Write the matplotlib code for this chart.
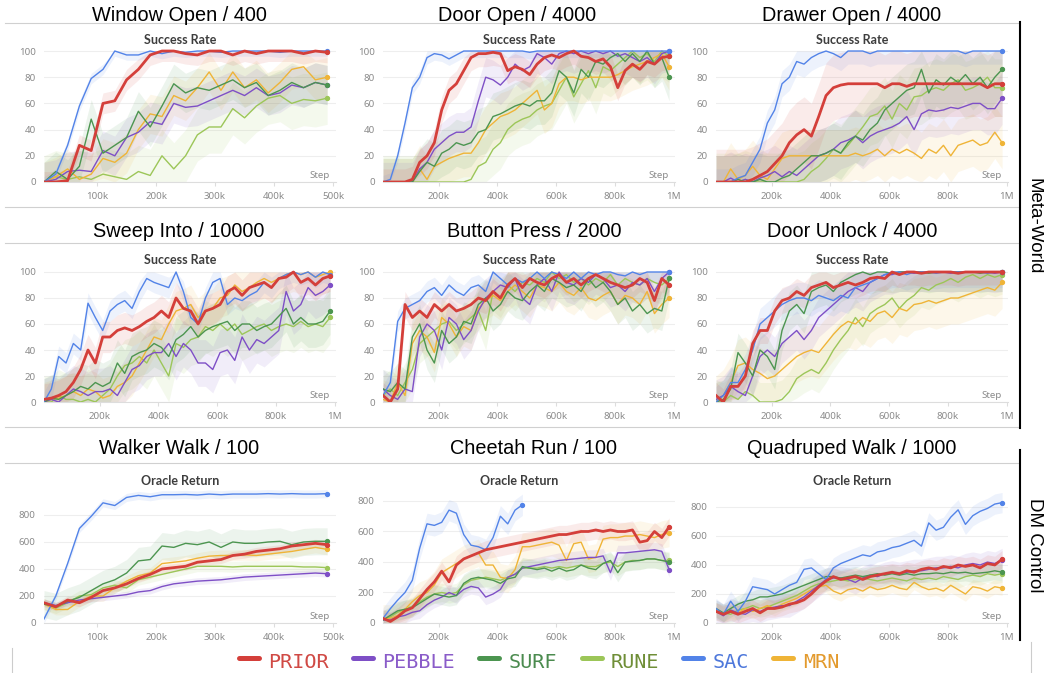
import numpy as np
import matplotlib.pyplot as plt
from matplotlib.lines import Line2D

# ---------------- data ----------------
methods = ["PRIOR", "PEBBLE", "SURF", "RUNE", "SAC", "MRN"]
line_colors = {"PRIOR": "#d43f3a", "PEBBLE": "#7e4fc6", "SURF": "#4c9550",
               "RUNE": "#9cc658", "SAC": "#5283e8", "MRN": "#efb437"}
legend_text_colors = {"PRIOR": "#d04a45", "PEBBLE": "#8a5cc9", "SURF": "#4b8b4f",
                      "RUNE": "#6f8e37", "SAC": "#4e78db", "MRN": "#e39a2d"}

steps_500k = np.arange(10, 500, 20) * 1000     # 25 logged steps
steps_1m = np.arange(10, 1000, 25) * 1000      # 40 logged steps

window_open = {
    "PRIOR": [0, 0, 1, 28, 24, 60, 62, 78, 86, 97, 100, 100, 98, 97, 100, 100, 97, 100, 98, 100, 100, 100, 98, 100, 99],
    "PEBBLE": [0, 2, 8, 9, 8, 24, 20, 34, 38, 46, 44, 60, 57, 58, 62, 66, 70, 66, 72, 66, 68, 74, 72, 76, 74],
    "SURF": [0, 8, 2, 12, 48, 22, 28, 34, 54, 42, 58, 75, 68, 72, 70, 74, 78, 72, 76, 66, 70, 76, 72, 76, 74],
    "RUNE": [0, 4, 2, 4, 2, 6, 4, 2, 8, 5, 20, 10, 20, 36, 42, 42, 56, 49, 58, 64, 66, 60, 63, 62, 64],
    "SAC": [0, 6, 28, 58, 79, 86, 100, 97, 97, 100, 98, 100, 99, 100, 100, 99, 100, 100, 100, 100, 99, 100, 100, 100, 100],
    "MRN": [0, 4, 10, 2, 6, 18, 15, 22, 40, 52, 50, 66, 62, 72, 84, 70, 84, 72, 78, 68, 76, 86, 88, 78, 80],
}
window_open_spread = [8, 15, 15, 20, 4, 15]

door_open = {
    "PRIOR": [0, 0, 0, 0, 2, 15, 20, 30, 55, 70, 75, 85, 95, 98, 98, 99, 98, 85, 88, 86,
              82, 90, 95, 97, 95, 98, 100, 96, 95, 92, 94, 88, 72, 85, 90, 86, 92, 90, 95, 96],
    "PEBBLE": [0, 0, 0, 0, 0, 10, 15, 25, 30, 35, 38, 38, 42, 62, 80, 78, 74, 80, 90, 85,
               88, 98, 95, 90, 98, 100, 98, 100, 98, 100, 98, 100, 96, 98, 95, 92, 95, 90, 98, 100],
    "SURF": [0, 0, 0, 0, 0, 8, 15, 12, 22, 25, 30, 28, 30, 38, 40, 50, 52, 55, 58, 60,
             58, 62, 62, 68, 85, 80, 68, 86, 80, 92, 90, 95, 98, 92, 98, 92, 100, 90, 95, 80],
    "RUNE": [0, 0, 0, 0, 0, 0, 0, 0, 0, 0, 0, 0, 2, 12, 15, 25, 30, 40, 45, 48,
             50, 55, 58, 60, 70, 80, 65, 75, 85, 72, 88, 85, 90, 95, 100, 95, 98, 92, 100, 96],
    "SAC": [0, 2, 20, 45, 72, 80, 95, 98, 97, 94, 97, 100, 100, 100, 100, 100, 100, 100, 100, 100,
            99, 100, 100, 100, 100, 100, 100, 100, 100, 100, 100, 100, 100, 100, 100, 100, 100, 100, 100, 100],
    "MRN": [0, 0, 0, 0, 0, 10, 2, 12, 15, 18, 20, 22, 22, 30, 40, 45, 50, 52, 55, 60,
            65, 70, 55, 60, 75, 80, 80, 78, 80, 80, 80, 80, 82, 85, 88, 90, 92, 95, 98, 88],
}
door_open_spread = [10, 15, 18, 20, 5, 18]

drawer_open = {
    "PRIOR": [0, 0, 0, 0, 0, 2, 5, 8, 14, 20, 30, 36, 40, 35, 50, 66, 72, 74, 75, 75,
              75, 75, 75, 72, 75, 75, 73, 75, 75, 75, 75, 75, 75, 75, 75, 75, 75, 72, 75, 75],
    "PEBBLE": [0, 0, 3, 0, 2, 0, 3, 5, 8, 4, 8, 5, 10, 15, 20, 22, 25, 30, 32, 35,
               30, 35, 38, 40, 42, 45, 50, 40, 52, 55, 54, 55, 57, 56, 58, 60, 60, 56, 56, 64],
    "SURF": [0, 0, 0, 2, 0, 0, 2, 0, 0, 3, 5, 10, 15, 20, 20, 22, 25, 22, 30, 35,
             32, 40, 45, 55, 60, 65, 70, 72, 86, 68, 78, 74, 80, 76, 82, 75, 80, 72, 80, 86],
    "RUNE": [0, 0, 0, 0, 2, 0, 0, 0, 0, 0, 0, 0, 2, 8, 12, 18, 25, 22, 28, 35,
             42, 50, 52, 58, 48, 60, 55, 65, 66, 70, 72, 70, 75, 78, 70, 72, 75, 80, 72, 72],
    "SAC": [0, 0, 0, 3, 5, 15, 25, 45, 55, 75, 80, 92, 90, 95, 98, 100, 98, 95, 100, 100,
            100, 98, 100, 100, 100, 100, 100, 100, 100, 100, 100, 100, 100, 100, 98, 100, 100, 100, 100, 100],
    "MRN": [0, 0, 10, 2, 5, 12, 5, 2, 10, 18, 20, 20, 20, 20, 20, 20, 20, 20, 20, 22,
            20, 22, 25, 20, 25, 22, 25, 22, 18, 25, 22, 28, 20, 28, 30, 32, 28, 30, 38, 30],
}
drawer_open_spread = [25, 20, 20, 22, 10, 20]

sweep_into = {
    "PRIOR": [2, 3, 5, 8, 15, 25, 40, 30, 50, 50, 55, 57, 55, 58, 62, 65, 70, 65, 80, 72,
              70, 60, 70, 72, 75, 85, 88, 82, 88, 90, 92, 88, 95, 96, 100, 92, 95, 90, 95, 97],
    "PEBBLE": [0, 2, 0, 5, 10, 8, 5, 8, 8, 10, 5, 15, 25, 28, 35, 38, 38, 45, 35, 45,
               40, 30, 30, 25, 38, 40, 32, 50, 40, 48, 45, 50, 55, 85, 70, 75, 88, 82, 85, 90],
    "SURF": [0, 3, 2, 5, 8, 12, 10, 15, 12, 15, 30, 22, 35, 38, 40, 45, 42, 35, 48, 52,
             58, 50, 55, 58, 60, 62, 55, 60, 60, 55, 58, 60, 66, 72, 60, 65, 60, 60, 62, 70],
    "RUNE": [0, 0, 5, 2, 2, 0, 2, 0, 5, 10, 20, 28, 30, 35, 30, 40, 30, 20, 45, 42,
             48, 50, 58, 55, 60, 55, 60, 52, 55, 58, 60, 55, 58, 60, 58, 62, 58, 60, 58, 65],
    "SAC": [0, 10, 35, 30, 45, 40, 76, 65, 55, 70, 75, 78, 72, 85, 95, 92, 90, 88, 100, 85,
            65, 60, 80, 92, 95, 75, 80, 78, 82, 85, 92, 88, 95, 98, 100, 98, 100, 96, 100, 98],
    "MRN": [0, 2, 3, 5, 8, 5, 10, 8, 3, 5, 12, 15, 20, 30, 40, 50, 48, 60, 70, 72,
            75, 65, 70, 72, 80, 82, 90, 85, 88, 92, 95, 92, 95, 98, 100, 98, 100, 96, 98, 100],
}
sweep_into_spread = [12, 18, 18, 20, 8, 15]

button_press = {
    "PRIOR": [5, 0, 10, 75, 65, 70, 65, 75, 70, 75, 70, 72, 75, 80, 78, 85, 80, 90, 95, 88,
              95, 92, 90, 95, 98, 92, 95, 90, 95, 98, 95, 92, 90, 88, 90, 95, 92, 78, 95, 90],
    "PEBBLE": [10, 5, 2, 10, 8, 50, 60, 55, 40, 65, 60, 48, 55, 70, 80, 85, 90, 88, 95, 80,
               75, 90, 95, 85, 100, 92, 90, 95, 92, 98, 95, 88, 90, 85, 92, 90, 95, 85, 95, 100],
    "SURF": [10, 8, 15, 10, 50, 60, 40, 30, 55, 45, 50, 62, 60, 75, 80, 70, 75, 85, 80, 78,
             85, 90, 85, 95, 92, 88, 90, 85, 95, 88, 92, 85, 75, 80, 70, 75, 68, 72, 70, 95],
    "RUNE": [5, 10, 5, 15, 25, 45, 50, 55, 60, 62, 55, 60, 65, 70, 55, 85, 80, 90, 85, 92,
             90, 95, 92, 100, 95, 98, 92, 95, 90, 95, 92, 98, 90, 95, 92, 90, 95, 92, 90, 95],
    "SAC": [5, 15, 62, 72, 75, 78, 85, 88, 82, 90, 85, 82, 88, 90, 85, 100, 95, 90, 95, 92,
            95, 100, 95, 100, 98, 95, 100, 95, 100, 98, 100, 100, 98, 97, 100, 98, 100, 100, 100, 100],
    "MRN": [2, 0, 15, 5, 45, 55, 50, 38, 65, 60, 50, 58, 55, 72, 78, 82, 78, 85, 90, 85,
            80, 90, 88, 85, 92, 85, 82, 88, 80, 78, 82, 85, 75, 82, 80, 75, 85, 68, 75, 80],
}
button_press_spread = [10, 15, 15, 15, 8, 15]

door_unlock = {
    "PRIOR": [5, 0, 12, 12, 20, 45, 55, 55, 70, 78, 80, 85, 82, 88, 90, 92, 88, 90, 92, 90,
              92, 95, 96, 95, 100, 98, 100, 100, 99, 100, 100, 100, 100, 99, 100, 100, 100, 100, 100, 100],
    "PEBBLE": [2, 5, 12, 8, 5, 20, 35, 40, 35, 45, 50, 55, 48, 55, 65, 70, 75, 80, 85, 88,
               85, 92, 95, 98, 98, 100, 100, 99, 100, 100, 100, 100, 99, 100, 100, 100, 100, 100, 99, 100],
    "SURF": [0, 2, 10, 38, 30, 20, 40, 35, 25, 55, 70, 75, 68, 85, 88, 90, 85, 92, 95, 98,
             100, 98, 100, 100, 99, 100, 100, 100, 100, 99, 100, 100, 100, 100, 100, 100, 99, 100, 100, 100],
    "RUNE": [2, 0, 5, 2, 8, 5, 0, 0, 0, 2, 8, 18, 22, 25, 22, 30, 40, 48, 55, 65,
             58, 68, 72, 75, 80, 72, 78, 82, 88, 86, 90, 92, 95, 92, 96, 98, 95, 98, 96, 98],
    "SAC": [0, 5, 15, 15, 25, 40, 60, 65, 70, 75, 78, 80, 80, 78, 82, 80, 78, 82, 80, 88,
            90, 92, 95, 98, 100, 100, 98, 100, 100, 100, 99, 100, 100, 100, 100, 100, 100, 99, 100, 100],
    "MRN": [0, 5, 15, 28, 30, 25, 22, 18, 20, 25, 30, 35, 38, 40, 38, 45, 52, 58, 62, 60,
            65, 62, 68, 70, 65, 72, 70, 75, 76, 78, 76, 78, 80, 80, 82, 84, 86, 88, 86, 92],
}
door_unlock_spread = [10, 15, 15, 15, 12, 20]

walker_walk = {
    "PRIOR": [150, 120, 170, 150, 190, 240, 260, 290, 330, 360, 400, 410, 420, 450, 460, 470, 500, 510, 530, 540, 550, 570, 580, 590, 580],
    "PEBBLE": [150, 130, 150, 170, 180, 190, 200, 210, 230, 240, 270, 290, 300, 310, 315, 320, 330, 340, 345, 350, 355, 360, 365, 370, 365],
    "SURF": [140, 120, 160, 190, 240, 290, 320, 370, 460, 470, 570, 560, 590, 580, 600, 560, 600, 590, 590, 600, 605, 580, 600, 605, 605],
    "RUNE": [140, 110, 150, 200, 210, 260, 280, 260, 320, 340, 360, 380, 400, 420, 420, 420, 415, 420, 420, 420, 420, 420, 415, 415, 410],
    "SAC": [30, 200, 440, 700, 790, 890, 870, 930, 945, 935, 950, 950, 952, 948, 955, 950, 955, 955, 955, 958, 955, 958, 955, 955, 958],
    "MRN": [140, 100, 100, 160, 200, 200, 260, 310, 350, 370, 440, 450, 460, 480, 495, 500, 500, 505, 500, 510, 520, 530, 545, 560, 545],
}
walker_walk_spread = [30, 25, 100, 40, 30, 40]

cheetah_run = {
    "PRIOR": [30, 10, 40, 80, 100, 160, 220, 270, 340, 270, 380, 420, 440, 460, 480, 490, 500, 510, 520, 530,
              540, 550, 560, 570, 580, 580, 590, 600, 600, 610, 600, 610, 600, 600, 610, 530, 540, 600, 560, 630],
    "PEBBLE": [20, 20, 40, 50, 70, 80, 120, 150, 170, 200, 180, 220, 240, 230, 170, 190, 220, 300, 320, 360,
               370, 380, 390, 400, 410, 415, 420, 425, 430, 430, 440, 330, 460, 460, 465, 470, 475, 480, 470, 350],
    "SURF": [20, 50, 80, 90, 100, 130, 160, 190, 180, 170, 180, 260, 290, 300, 290, 280, 260, 290, 300, 370,
             360, 350, 360, 340, 360, 340, 350, 380, 360, 350, 390, 410, 330, 400, 405, 410, 420, 420, 410, 400],
    "RUNE": [20, 40, 70, 90, 110, 140, 170, 190, 200, 190, 200, 250, 280, 290, 300, 290, 280, 300, 320, 360,
             360, 360, 370, 360, 370, 360, 370, 380, 370, 370, 390, 400, 370, 400, 410, 410, 420, 420, 410, 410],
    "SAC": [30, 94, 150, 200, 280, 490, 650, 640, 660, 740, 720, 580, 510, 500, 480, 560, 700, 650, 740, 775],
    "MRN": [30, 30, 50, 90, 140, 180, 200, 250, 330, 360, 390, 420, 440, 460, 380, 380, 300, 290, 350, 500,
            500, 510, 520, 530, 510, 410, 520, 530, 420, 430, 550, 560, 560, 570, 570, 580, 570, 560, 580, 590],
}
cheetah_run_spread = [60, 50, 60, 60, 70, 90]

quadruped_walk = {
    "PRIOR": [80, 60, 80, 60, 80, 100, 70, 100, 100, 110, 130, 140, 160, 200, 250, 290, 320, 300, 310, 320,
              300, 320, 330, 340, 350, 340, 360, 350, 370, 380, 370, 390, 380, 400, 390, 400, 380, 410, 400, 440],
    "PEBBLE": [80, 50, 90, 70, 60, 90, 80, 100, 110, 120, 120, 150, 180, 220, 260, 300, 310, 310, 300, 280,
               310, 330, 320, 340, 350, 340, 350, 360, 360, 370, 380, 380, 390, 380, 400, 410, 400, 420, 410, 435],
    "SURF": [100, 70, 100, 130, 150, 160, 180, 180, 190, 200, 220, 240, 260, 280, 300, 320, 320, 310, 320, 330,
             320, 330, 340, 330, 340, 330, 340, 330, 340, 340, 345, 340, 350, 345, 350, 340, 345, 350, 360, 350],
    "RUNE": [80, 70, 60, 90, 100, 120, 100, 110, 130, 150, 170, 190, 220, 250, 270, 280, 290, 300, 290, 300,
             310, 300, 290, 300, 310, 300, 290, 310, 300, 310, 300, 320, 310, 300, 320, 330, 320, 340, 330, 340],
    "SAC": [100, 60, 150, 80, 150, 250, 240, 230, 200, 230, 260, 280, 370, 380, 340, 300, 380, 410, 430, 450,
            470, 460, 490, 500, 520, 530, 550, 570, 530, 690, 640, 660, 730, 780, 680, 740, 770, 790, 820, 830],
    "MRN": [90, 60, 80, 70, 100, 80, 100, 120, 100, 130, 150, 170, 200, 230, 250, 260, 220, 200, 230, 240,
            220, 250, 230, 240, 260, 240, 230, 280, 250, 230, 240, 220, 260, 230, 200, 250, 240, 220, 250, 240],
}
quadruped_walk_spread = [60, 80, 60, 60, 70, 50]

# title, metric, data, spread, steps, y-top, title center x (px)
panels = [
    [("Window Open / 400", "Success Rate", window_open, window_open_spread, steps_500k, 102, 179),
     ("Door Open / 4000", "Success Rate", door_open, door_open_spread, steps_1m, 102, 517),
     ("Drawer Open / 4000", "Success Rate", drawer_open, drawer_open_spread, steps_1m, 102, 852)],
    [("Sweep Into / 10000", "Success Rate", sweep_into, sweep_into_spread, steps_1m, 102, 179),
     ("Button Press / 2000", "Success Rate", button_press, button_press_spread, steps_1m, 102, 534),
     ("Door Unlock / 4000", "Success Rate", door_unlock, door_unlock_spread, steps_1m, 102, 852)],
    [("Walker Walk / 100", "Oracle Return", walker_walk, walker_walk_spread, steps_500k, 985, 179),
     ("Cheetah Run / 100", "Oracle Return", cheetah_run, cheetah_run_spread, steps_1m, 872, 533),
     ("Quadruped Walk / 1000", "Oracle Return", quadruped_walk, quadruped_walk_spread, steps_1m, 917, 852)],
]

# ---------------- layout (pixels) ----------------
W, H = 1044, 673
col_px = [(44, 336), (383, 675), (716, 1008)]
row_px = [(48.4, 182), (269.4, 402), (490, 623)]
metric_cx = [180, 519, 852]
title_base = [21, 237, 454]
metric_base = [44, 264, 485]

def fx(px):
    return px / W

def fy(py):
    return 1 - py / H

def hline(x0, x1, y, color="#d0d0d0", lw=0.8):
    fig.add_artist(Line2D([fx(x0), fx(x1)], [fy(y), fy(y)], transform=fig.transFigure, color=color, lw=lw))

def vline(x, y0, y1, color="black", lw=1.5):
    fig.add_artist(Line2D([fx(x), fx(x)], [fy(y0), fy(y1)], transform=fig.transFigure, color=color, lw=lw))

def kfmt(v):
    return "1M" if v >= 1_000_000 else f"{int(v / 1000)}k"

fig = plt.figure(figsize=(W / 100, H / 100), dpi=100)
fig.patch.set_facecolor("white")

draw_order = ["RUNE", "MRN", "PEBBLE", "SURF", "SAC", "PRIOR"]

for r, row in enumerate(panels):
    t, b = row_px[r]
    for c, (title, metric, data, spread, steps, ytop, tcx) in enumerate(row):
        l, rr = col_px[c]
        ax = fig.add_axes([fx(l), fy(b), (rr - l) / W, (b - t) / H])
        short = steps[-1] < 600_000
        for name in draw_order:
            y = np.array(data[name], dtype=float)
            x = steps[:len(y)]
            s = spread[methods.index(name)]
            lo, hi = y - s, y + s
            if ytop <= 102:
                lo, hi = np.clip(lo, 0, 100), np.clip(hi, 0, 100)
            else:
                lo = np.clip(lo, 0, None)
            col = line_colors[name]
            ax.fill_between(x, lo, hi, color=col, alpha=0.1, lw=0, zorder=1)
            lw = 2.0 if name == "PRIOR" else 1.0
            z = 5 if name == "PRIOR" else 3
            ax.plot(x, y, color=col, lw=lw, zorder=z)
            ax.plot(x[-1], y[-1], "o", color=col, ms=2.8, zorder=z)

        if short:
            ax.set_xlim(10_000, 505_000)
            xt = [100_000, 200_000, 300_000, 400_000, 500_000]
        else:
            ax.set_xlim(10_000, 1_005_000)
            xt = [200_000, 400_000, 600_000, 800_000, 1_000_000]
        ax.set_xticks(xt)
        ax.set_xticklabels([kfmt(v) for v in xt])
        ax.set_ylim(0, ytop)
        ax.set_yticks([0, 20, 40, 60, 80, 100] if ytop <= 102 else [0, 200, 400, 600, 800])

        for sp in ["top", "right", "left"]:
            ax.spines[sp].set_visible(False)
        ax.spines["bottom"].set_color("#dddddd")
        ax.spines["bottom"].set_linewidth(0.8)
        ax.yaxis.grid(True, color="#eeeeee", lw=0.8)
        ax.set_axisbelow(True)
        ax.tick_params(axis="y", length=0, pad=6, labelsize=7, labelcolor="#8a8a8a")
        ax.tick_params(axis="x", length=3, color="#dddddd", pad=4, labelsize=7, labelcolor="#8a8a8a")
        for lab in ax.get_xticklabels() + ax.get_yticklabels():
            lab.set_family("Noto Sans")
        ax.text(0.98, 0.03, "Step", transform=ax.transAxes, ha="right", va="baseline",
                fontsize=7, color="#8a8a8a", family="Noto Sans")

        fig.text(fx(tcx), fy(title_base[r]), title, ha="center", va="baseline",
                 fontsize=14.3, family="Liberation Sans", color="black")
        fig.text(fx(metric_cx[c]), fy(metric_base[r]), metric, ha="center", va="baseline",
                 fontsize=9, fontweight="bold", family=["Lato", "DejaVu Sans"], color="#3d3d3d")

# panel separators
for y in [23, 207, 243, 427, 463]:
    hline(5, 1018, y)

# group brackets and labels
vline(1020, 22, 428)
vline(1020, 450, 640)
fig.text(fx(1034), fy(226), "Meta-World", rotation=-90, ha="center", va="center",
         fontsize=13.5, family="Liberation Sans")
fig.text(fx(1034), fy(545), "DM Control", rotation=-90, ha="center", va="center",
         fontsize=13.5, family="Liberation Sans")

# legend box edges
vline(12, 648, 673, color="#cccccc", lw=0.8)
vline(1031, 642, 673, color="#cccccc", lw=0.8)

# legend
legend_px = [("PRIOR", 239, 268), ("PEBBLE", 353, 382), ("SURF", 479, 509),
             ("RUNE", 582, 611), ("SAC", 683, 713), ("MRN", 773, 803)]
for name, lx, tx in legend_px:
    fig.add_artist(Line2D([fx(lx), fx(lx + 20)], [fy(658), fy(658)], transform=fig.transFigure,
                          color=line_colors[name], lw=3.6, solid_capstyle="round"))
    fig.text(fx(tx), fy(668), name, ha="left", va="baseline", fontsize=14.5,
             family="DejaVu Sans Mono", color=legend_text_colors[name])

fig.savefig("out.png", dpi=100)
